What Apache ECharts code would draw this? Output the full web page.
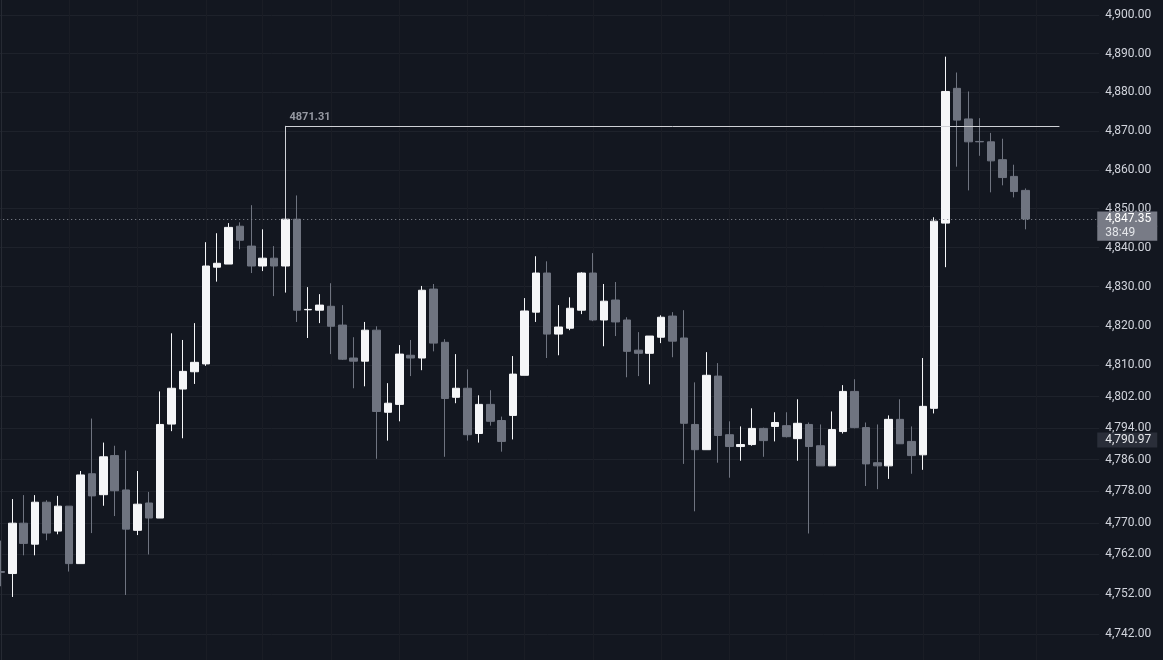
<!DOCTYPE html>
<html>
<head>
<meta charset="utf-8">
<script src="https://cdn.jsdelivr.net/npm/echarts@6/dist/echarts.min.js"></script>
<style>
html,body{margin:0;padding:0;background:#131720;overflow:hidden;}
#chart{position:absolute;left:-5px;top:0;width:1168px;height:660px;}
</style>
</head>
<body>
<div id="chart"></div>
<script>
// ---- data ----
const opens  = [4757.7,4757.2,4769.9,4764.6,4775.2,4767.9,4774.2,4759.7,4782.4,4777.1,
                4787.0,4778.3,4768.1,4775.0,4771.2,4795.0,4803.9,4808.3,4810.3,4835.0,
                4835.8,4845.5,4840.4,4835.3,4837.3,4835.3,4847.3,4824.1,4824.0,4825.0,
                4820.2,4811.8,4811.0,4818.9,4798.0,4800.0,4812.5,4811.8,4829.4,4815.8,
                4801.8,4804.1,4792.6,4800.0,4795.9,4797.2,4807.4,4823.5,4833.5,4817.9,
                4819.4,4824.0,4833.5,4821.5,4826.6,4821.5,4813.8,4813.0,4817.1,4822.5,
                4816.9,4794.9,4788.5,4807.2,4792.3,4789.3,4789.8,4793.9,4794.4,4794.6,
                4791.3,4794.9,4789.5,4784.4,4793.1,4803.3,4794.1,4785.2,4784.4,4796.2,
                4790.6,4787.2,4799.0,4846.3,4881.0,4873.1,4867.3,4867.2,4862.6,4858.3,
                4854.7];
const highs  = [4765.5,4776.0,4777.0,4777.0,4775.7,4776.8,4774.2,4783.1,4796.4,4790.3,
                4789.5,4788.3,4783.1,4777.8,4803.3,4818.1,4816.4,4820.7,4841.4,4843.7,
                4846.3,4846.5,4850.9,4844.7,4840.4,4847.3,4853.4,4829.9,4828.1,4830.9,
                4825.3,4817.1,4821.0,4819.9,4805.4,4815.1,4816.4,4830.2,4830.7,4816.6,
                4812.8,4808.9,4802.3,4803.6,4796.9,4812.3,4827.1,4837.8,4836.5,4825.3,
                4827.3,4833.7,4838.6,4830.7,4831.2,4822.2,4818.4,4817.4,4822.7,4823.5,
                4824.0,4805.6,4813.3,4810.5,4795.7,4794.4,4799.0,4794.1,4798.0,4798.0,
                4801.3,4795.4,4794.9,4798.2,4804.9,4806.4,4795.4,4794.9,4797.2,4801.3,
                4794.4,4811.8,4847.8,4889.2,4885.1,4880.2,4873.3,4869.5,4868.0,4861.3,
                4855.2];
const lows   = [4754.0,4751.3,4761.8,4761.8,4765.6,4767.1,4757.7,4759.7,4767.4,4774.3,
                4771.7,4751.8,4766.9,4762.0,4771.2,4793.2,4791.4,4805.2,4809.8,4831.3,
                4835.8,4839.6,4833.5,4834.0,4827.6,4828.5,4821.0,4816.9,4820.7,4812.8,
                4811.3,4804.1,4804.6,4786.2,4790.8,4795.7,4807.2,4808.7,4813.5,4786.7,
                4800.3,4790.8,4790.3,4794.6,4788.0,4791.1,4807.4,4821.0,4811.8,4812.5,
                4818.9,4823.0,4821.2,4814.8,4817.4,4806.9,4807.2,4805.1,4815.6,4812.0,
                4784.9,4772.9,4788.5,4785.2,4781.4,4785.7,4789.5,4786.7,4790.6,4791.6,
                4785.7,4767.3,4784.4,4784.4,4792.6,4793.9,4779.3,4778.5,4781.1,4790.0,
                4782.4,4783.4,4797.7,4835.0,4860.8,4854.7,4863.6,4854.2,4856.0,4852.9,
                4844.7];
const closes = [4757.5,4769.9,4764.8,4775.2,4767.4,4774.2,4759.7,4782.1,4776.8,4786.7,
                4778.1,4768.4,4774.7,4771.2,4794.9,4804.1,4808.4,4810.7,4835.3,4836.0,
                4845.2,4841.9,4835.3,4837.3,4835.3,4847.3,4824.0,4824.2,4825.3,4819.9,
                4811.5,4811.0,4818.9,4798.2,4800.3,4812.8,4811.8,4829.1,4815.6,4801.5,
                4804.1,4792.3,4800.0,4795.7,4790.6,4807.7,4823.8,4833.5,4817.9,4819.7,
                4824.5,4833.5,4821.5,4826.3,4821.0,4813.5,4813.0,4817.4,4822.2,4816.1,
                4795.2,4788.5,4807.4,4792.1,4789.3,4789.8,4793.9,4790.8,4795.4,4791.8,
                4795.2,4789.3,4784.4,4793.6,4803.3,4794.1,4784.9,4784.4,4796.2,4790.0,
                4787.0,4799.5,4846.8,4880.2,4872.8,4867.2,4867.2,4862.3,4858.0,4854.4,
                4847.35];

const priceTicks = [4742,4752,4762,4770,4778,4786,4794,4802,4810,4820,4830,4840,4850,4860,4870,4880,4890,4900];
const timeGridIndex = [0,6,12,18,23,29,35,41,46,52,58,64,69,75,81,86,91];

const lastPrice = 4847.35;
const countdownText = '38:49';
const markerPrice = 4790.97;
const levelPrice = 4871.31;
const levelFromIndex = 25;
const levelToIndex = 93;
const slotCount = 97;            // candles + empty right margin slots

// ---- styling ----
const UP = '#f5f6f8';
const DOWN = '#6f7480';
const BG = '#131720';
const CLEAR = 'rgba(0,0,0,0)';

function fmt(v) {
  const s = (Math.round(v * 100) / 100).toFixed(2);
  const parts = s.split('.');
  return parts[0].replace(/\B(?=(\d{3})+(?!\d))/g, ',') + '.' + parts[1];
}

const categories = Array.from({length: slotCount}, (_, i) => String(i));
const candleData = opens.map((o, i) => [o, closes[i], lows[i], highs[i]]);

const chart = echarts.init(document.getElementById('chart'), null, {renderer: 'canvas'});
const boxLabel = (text, bg, color) => ({
  show: true, position: 'end', distance: -2,
  formatter: text, backgroundColor: bg, color: color,
  fontFamily: 'Roboto', fontSize: 12, lineHeight: 15,
  padding: [0, 5, 0, 8], width: 47, align: 'left'
});

chart.setOption({
  backgroundColor: BG,
  animation: false,
  grid: {left: 0.21, top: 0, width: 1104.05, height: 660, containLabel: false},
  xAxis: [
    {type: 'category', data: categories, show: false, boundaryGap: true},
    {type: 'value', min: -0.5, max: slotCount - 0.5, show: true,
     axisLine: {show: false}, axisLabel: {show: false},
     axisTick: {show: false, customValues: timeGridIndex},
     splitLine: {show: true, lineStyle: {color: '#1a1d25', width: 1}}}
  ],
  yAxis: {
    type: 'log', position: 'right', min: 4735.47, max: 4903.89, offset: -4,
    axisLine: {show: true, lineStyle: {color: '#262a33'}},
    axisTick: {show: false, customValues: priceTicks},
    axisLabel: {customValues: priceTicks, formatter: v => fmt(v), color: '#d1d4dc',
                fontFamily: 'Roboto', fontSize: 12, margin: 10},
    splitLine: {show: true, lineStyle: {color: '#1e222b', width: 1}}
  },
  series: [{
    type: 'candlestick',
    xAxisIndex: 0, yAxisIndex: 0,
    data: candleData,
    barWidth: 8,
    silent: true,
    itemStyle: {color: UP, color0: DOWN, borderColor: UP, borderColor0: DOWN, borderWidth: 1},
    markLine: {
      silent: true, animation: false, symbol: ['none', 'none'],
      data: [
        [
          {coord: [levelFromIndex, levelPrice],
           lineStyle: {color: '#cfd1d6', width: 1, type: 'solid'},
           label: {show: true, position: 'insideStartTop', formatter: String(levelPrice),
                   color: '#9598a1', fontWeight: 'bold', fontFamily: 'Roboto', fontSize: 11, distance: [4, 3]}},
          {coord: [levelToIndex, levelPrice]}
        ],
        [
          {coord: [levelFromIndex, levelPrice],
           lineStyle: {color: '#cfd1d6', width: 1, type: 'solid'},
           label: {show: false}},
          {coord: [levelFromIndex, closes[levelFromIndex]]}
        ],
        {yAxis: markerPrice, lineStyle: {color: CLEAR, width: 1},
         label: boxLabel(fmt(markerPrice), '#2a2e39', '#e6e8ec')},
        {yAxis: lastPrice - 3.65, lineStyle: {color: CLEAR, width: 1},
         label: boxLabel(countdownText, '#787b86', '#e4e6ea')},
        {yAxis: lastPrice, lineStyle: {color: '#8a8e98', width: 1, type: [1, 3]},
         label: boxLabel(fmt(lastPrice), '#787b86', '#ffffff')}
      ]
    }
  }]
});
</script>
</body>
</html>
